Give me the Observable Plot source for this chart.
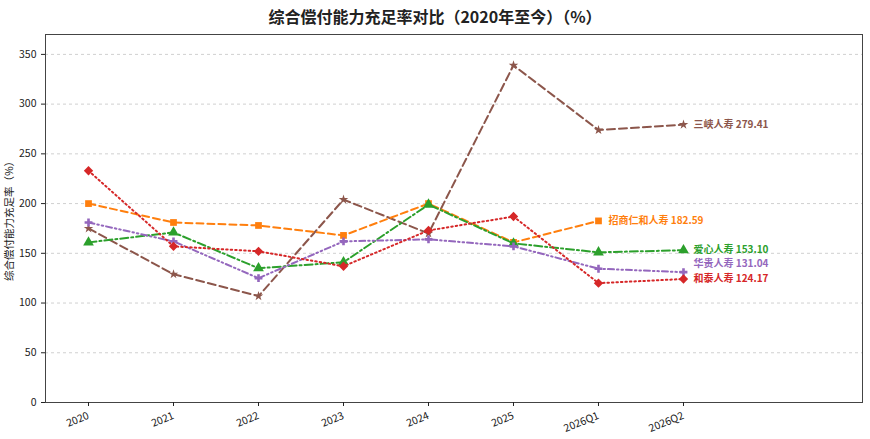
<!DOCTYPE html>
<html><head><meta charset="utf-8">
<script src="https://cdn.jsdelivr.net/npm/d3@7"></script>
<script src="https://cdn.jsdelivr.net/npm/@observablehq/plot@0.6"></script>
<style>
body{margin:0;background:#fff;font-family:"Noto Sans CJK SC","Noto Sans",sans-serif;}
#title{height:30px;line-height:32px;text-align:center;font-size:16px;font-weight:bold;color:#222;}
</style></head>
<body>
<div id="title">综合偿付能力充足率对比（2020年至今）（%）</div>
<div id="chart"></div>
<script>
const categories = ["2020","2021","2022","2023","2024","2025","2026Q1","2026Q2"];
const names = ["三峡人寿","招商仁和人寿","爱心人寿","华贵人寿","和泰人寿"];
const sanxia   = [175, 129, 107, 204, 170, 339, 274, 279.41];
const zhaoshang= [200, 181, 178, 168, 200, 161, 182.59, null];
const aixin    = [161, 171, 135, 141, 199, 160, 151, 153.10];
const huagui   = [181, 162, 125, 162, 164, 157, 134.5, 131.04];
const hetai    = [233, 157, 152, 137, 173, 187, 120, 124.17];
const yTicks = [0,50,100,150,200,250,300,350];

const seriesValues = [sanxia, zhaoshang, aixin, huagui, hetai];
const colors = ["#8c564b","#ff7f0e","#2ca02c","#9467bd","#d62728"];
const dashes = ["8,4","7,4","8,3,2,3","6,3,1.5,3,1.5,3","1.5,3"];
const widths = [2,2,2,2,2];
const symbols = ["star","square","triangle","cross","diamond2"];
const radii = [3,3.8,4,3.3,4.2];
const labelDy = [0,0,0,-8,0];

const rows = [];
seriesValues.forEach((vals, s) => vals.forEach((v, i) => {
  if (v != null) rows.push({name: names[s], s, i, v});
}));
const lastRows = names.map((n, s) => {
  const r = rows.filter(d => d.s === s);
  return r[r.length - 1];
});

const marks = [
  Plot.gridY(yTicks, {stroke:"#d0d0d0", strokeOpacity:1, strokeDasharray:"3,3"}),
  Plot.frame({stroke:"#444"}),
];
names.forEach((n, s) => {
  const d = rows.filter(r => r.s === s);
  marks.push(Plot.line(d, {x:"i", y:"v", stroke:colors[s], strokeWidth:widths[s], strokeDasharray:dashes[s]}));
  marks.push(Plot.dot(d, {x:"i", y:"v", fill:colors[s], symbol:()=>symbols[s], r: radii[s], stroke:"none"}));
  const l = lastRows[s];
  marks.push(Plot.text([l], {x:"i", y:"v", text: d => `${d.name} ${d.v.toFixed(2)}`, dx:10, dy:labelDy[s], textAnchor:"start", fill:colors[s], fontWeight:"bold", fontSize:10}));
});

const chart = Plot.plot({
  width: 870, height: 409,
  marginTop: 4, marginBottom: 37, marginLeft: 45, marginRight: 8,
  style: {fontFamily:'"Noto Sans CJK SC","Noto Sans",sans-serif', fontSize:"10px", color:"#222", background:"#fff"},
  x: {domain:[-0.506, 9.106], label:null},
  y: {domain:[0, 370], label:null},
  marks: [
    ...marks,
    Plot.axisX({ticks: d3.range(categories.length), tickFormat: i => categories[i], tickRotate:-22, label:null, tickSize:4, fontSize:10.5}),
    Plot.axisY({ticks: yTicks, label:"综合偿付能力充足率（%）", labelAnchor:"center", labelArrow:"none", labelOffset:40, tickSize:4, fontSize:10.5}),
  ]
});
document.getElementById("chart").appendChild(chart);
</script>
</body></html>
